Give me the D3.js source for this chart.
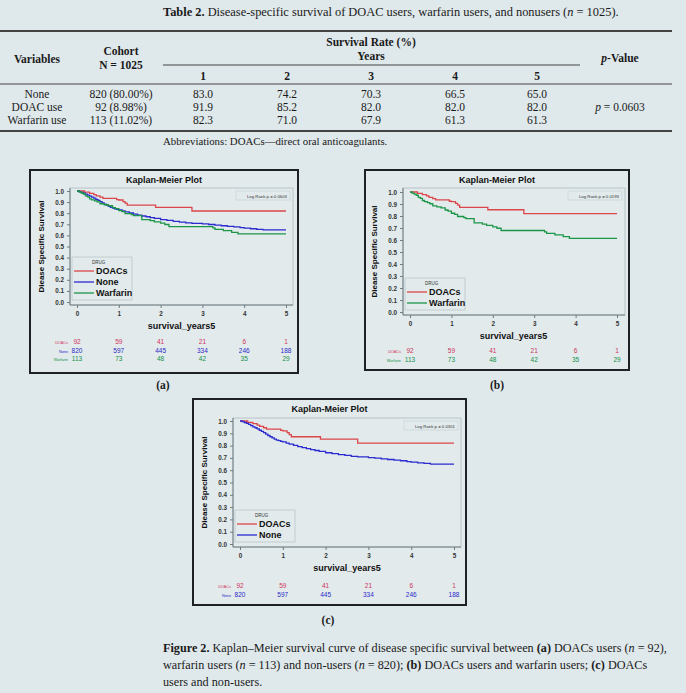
<!DOCTYPE html>
<html>
<head>
<meta charset="utf-8">
<script src="https://cdn.jsdelivr.net/npm/d3@7"></script>
<style>
  body { margin:0; background:#dfe8ea; }
  svg { display:block; }
  .serif { font-family:"Liberation Serif","DejaVu Serif",serif; fill:#1a1a1a; }
  .sas { font-family:"Liberation Sans",Arial,sans-serif; }
  .ax text { font-family:"Liberation Sans",Arial,sans-serif; font-weight:bold; fill:#333; }
  .ax path, .ax line { stroke:#6f7c80; }
</style>
</head>
<body>
<div id="chart"></div>
<script>
// ---- table data ----
var tableRows = ["None", "DOAC use", "Warfarin use"];
var cohortCol = ["820 (80.00%)", "92 (8.98%)", "113 (11.02%)"];
var yearCols = ["1", "2", "3", "4", "5"];
var rateRows = [
  ["83.0", "74.2", "70.3", "66.5", "65.0"],
  ["91.9", "85.2", "82.0", "82.0", "82.0"],
  ["82.3", "71.0", "67.9", "61.3", "61.3"]
];
var pValue = "p = 0.0603";

// ---- KM curves (time in years, survival) ----
var doacCurve = [[0,1],[0.18,0.989],[0.3,0.978],[0.4,0.967],[0.46,0.956],[0.55,0.945],[0.62,0.934],[0.95,0.923],[1.0,0.919],[1.1,0.905],[1.15,0.89],[1.2,0.872],[1.88,0.852],[2.75,0.82],[5,0.82]];
var noneCurve = [[0,1],[0.05,0.995],[0.1,0.988],[0.15,0.98],[0.2,0.972],[0.25,0.962],[0.3,0.953],[0.35,0.945],[0.4,0.936],[0.45,0.925],[0.5,0.915],[0.55,0.905],[0.6,0.893],[0.65,0.882],[0.7,0.872],[0.75,0.862],[0.8,0.853],[0.85,0.845],[0.9,0.84],[0.95,0.835],[1.0,0.83],[1.08,0.82],[1.15,0.812],[1.25,0.802],[1.35,0.792],[1.45,0.783],[1.55,0.775],[1.65,0.768],[1.75,0.76],[1.85,0.753],[2.0,0.742],[2.15,0.735],[2.3,0.727],[2.45,0.72],[2.6,0.713],[2.75,0.708],[3.0,0.703],[3.15,0.698],[3.3,0.692],[3.45,0.687],[3.6,0.682],[3.75,0.677],[3.9,0.67],[4.0,0.665],[4.15,0.66],[4.3,0.655],[4.45,0.65],[5,0.65]];
var warfarinCurve = [[0,1],[0.05,0.991],[0.1,0.982],[0.15,0.973],[0.2,0.956],[0.25,0.947],[0.3,0.929],[0.35,0.92],[0.42,0.911],[0.48,0.902],[0.55,0.885],[0.65,0.876],[0.75,0.867],[0.85,0.85],[0.92,0.841],[1.0,0.823],[1.08,0.814],[1.15,0.796],[1.3,0.787],[1.35,0.778],[1.55,0.743],[1.75,0.733],[1.85,0.722],[2.0,0.71],[2.1,0.698],[2.2,0.679],[3.25,0.667],[3.3,0.655],[3.5,0.643],[3.7,0.628],[3.85,0.613],[5,0.613]];

// numbers at risk at years 0..5
var riskYears = [0, 1, 2, 3, 4, 5];
var doacRisk = [92, 59, 41, 21, 6, 1];
var noneRisk = [820, 597, 445, 334, 246, 188];
var warfarinRisk = [113, 73, 48, 42, 35, 29];

var yTicks = [0, 0.1, 0.2, 0.3, 0.4, 0.5, 0.6, 0.7, 0.8, 0.9, 1.0];
var logRank = ["0.0603", "0.0193", "0.0301"];

var groups = {
  DOACs:    {curve: doacCurve, risk: doacRisk, color: "#dc4549", riskColor: "#d0355a"},
  None:     {curve: noneCurve, risk: noneRisk, color: "#2b2bd0", riskColor: "#2b2bc8"},
  Warfarin: {curve: warfarinCurve, risk: warfarinRisk, color: "#1b9647", riskColor: "#14914a"}
};

var svg = d3.select("#chart").append("svg")
  .attr("width", 686).attr("height", 693);

// ================= table =================
var colX = [37, 121, 203, 287, 371, 455, 537, 620];
var fs = "11.5px";

svg.append("text").attr("class","serif").attr("x",163).attr("y",16)
  .style("font-size","12.4px")
  .html('<tspan font-weight="bold">Table 2.</tspan> Disease-specific survival of DOAC users, warfarin users, and nonusers (<tspan font-style="italic">n</tspan> = 1025).');

svg.append("line").attr("x1",0).attr("x2",672).attr("y1",31).attr("y2",31)
  .attr("stroke","#444").attr("stroke-width",2);
svg.append("line").attr("x1",163).attr("x2",580).attr("y1",65).attr("y2",65)
  .attr("stroke","#444").attr("stroke-width",1);
svg.append("line").attr("x1",0).attr("x2",672).attr("y1",84).attr("y2",84)
  .attr("stroke","#444").attr("stroke-width",1);
svg.append("line").attr("x1",0).attr("x2",672).attr("y1",131).attr("y2",131)
  .attr("stroke","#444").attr("stroke-width",2);

function hdr(x, y, t){
  return svg.append("text").attr("class","serif").attr("x",x).attr("y",y)
    .attr("text-anchor","middle").style("font-size",fs).style("font-weight","bold").text(t);
}
hdr(colX[0], 63, "Variables");
hdr(colX[1], 55, "Cohort");
hdr(colX[1], 69, "N = 1025");
hdr(371, 46, "Survival Rate (%)");
hdr(371, 60, "Years");
svg.append("text").attr("class","serif").attr("x",colX[7]).attr("y",62)
  .attr("text-anchor","middle").style("font-size",fs).style("font-weight","bold")
  .html('<tspan font-style="italic">p</tspan>-Value');
yearCols.forEach(function(y, i){ hdr(colX[i+2], 80, y); });

tableRows.forEach(function(r, i){
  var y = 98 + i*13;
  svg.append("text").attr("class","serif").attr("x",colX[0]).attr("y",y)
    .attr("text-anchor","middle").style("font-size",fs).text(r);
  svg.append("text").attr("class","serif").attr("x",colX[1]).attr("y",y)
    .attr("text-anchor","middle").style("font-size",fs).text(cohortCol[i]);
  rateRows[i].forEach(function(v, j){
    svg.append("text").attr("class","serif").attr("x",colX[j+2]).attr("y",y)
      .attr("text-anchor","middle").style("font-size",fs).text(v);
  });
});
svg.append("text").attr("class","serif").attr("x",colX[7]).attr("y",111)
  .attr("text-anchor","middle").style("font-size",fs)
  .html('<tspan font-style="italic">p</tspan>' + pValue.slice(1));

svg.append("text").attr("class","serif").attr("x",163).attr("y",145)
  .style("font-size","10.8px").text("Abbreviations: DOACs\u2014direct oral anticoagulants.");

// ================= KM panels =================
function drawKM(cfg){
  var g = svg.append("g");
  // outer frame
  g.append("rect").attr("x",cfg.fx).attr("y",cfg.fy).attr("width",cfg.fw).attr("height",cfg.fh)
    .attr("fill","#e2eaec").attr("stroke","#1e2224").attr("stroke-width",2);

  var x = d3.scaleLinear().domain([0,5]).range([cfg.x0, cfg.x5]);
  var y = d3.scaleLinear().domain([0,1]).range([cfg.y0, cfg.y1]);

  // plot box
  g.append("rect").attr("x",cfg.bl).attr("y",cfg.bt).attr("width",cfg.br-cfg.bl).attr("height",cfg.bb-cfg.bt)
    .attr("fill","none").attr("stroke","#aebcc0").attr("stroke-width",0.8);

  g.append("text").attr("class","sas").attr("x",(cfg.fx*2+cfg.fw)/2).attr("y",cfg.fy+13)
    .attr("text-anchor","middle").style("font-size","9px").style("font-weight","bold")
    .attr("fill","#111").text("Kaplan-Meier Plot");

  var yAxis = d3.axisLeft(y).tickValues(yTicks).tickFormat(d3.format(".1f")).tickSize(3).tickPadding(3);
  g.append("g").attr("class","ax").attr("transform","translate("+cfg.bl+",0)")
    .call(yAxis)
    .call(function(s){ s.select(".domain").attr("d","M0,"+cfg.bt+"V"+cfg.bb); s.selectAll("text").style("font-size","6.3px"); });

  var xAxis = d3.axisBottom(x).tickValues(riskYears).tickFormat(d3.format("d")).tickSize(3).tickPadding(4);
  g.append("g").attr("class","ax").attr("transform","translate(0,"+cfg.bb+")")
    .call(xAxis)
    .call(function(s){ s.select(".domain").attr("d","M"+cfg.bl+",0H"+cfg.br); s.selectAll("text").style("font-size","6.3px"); });

  g.append("text").attr("class","sas").attr("transform","translate("+(cfg.bl-26)+","+((cfg.bt+cfg.bb)/2)+") rotate(-90)")
    .attr("text-anchor","middle").style("font-size","8px").style("font-weight","bold").attr("fill","#111")
    .text("Diease Specific Survival");

  g.append("text").attr("class","sas").attr("x",(cfg.x0+cfg.x5)/2).attr("y",cfg.bb+24)
    .attr("text-anchor","middle").style("font-size","9px").style("font-weight","bold").attr("fill","#111")
    .text("survival_years5");

  // log rank box
  var lrW = 54;
  g.append("rect").attr("x",cfg.br-lrW-3).attr("y",cfg.bt+3).attr("width",lrW).attr("height",9)
    .attr("fill","none").attr("stroke","#c4d0d4").attr("stroke-width",0.6);
  g.append("text").attr("class","sas").attr("x",cfg.br-6).attr("y",cfg.bt+9.5)
    .attr("text-anchor","end").style("font-size","4.3px").attr("fill","#333")
    .text("Log Rank p = " + cfg.p);

  var line = d3.line().x(function(d){ return x(d[0]); }).y(function(d){ return y(d[1]); })
    .curve(d3.curveStepAfter);

  cfg.names.forEach(function(n){
    g.append("path").attr("d", line(groups[n].curve))
      .attr("fill","none").attr("stroke",groups[n].color).attr("stroke-width",1.3);
  });

  // legend
  var lh = 11, lw = 60;
  var lTop = cfg.bb - 5 - (10 + lh*cfg.names.length);
  g.append("rect").attr("x",cfg.bl+2).attr("y",lTop).attr("width",lw).attr("height",10+lh*cfg.names.length)
    .attr("fill","#e2eaec").attr("stroke","#aebcc0").attr("stroke-width",0.6);
  g.append("text").attr("class","sas").attr("x",cfg.bl+22).attr("y",lTop+7)
    .style("font-size","4.5px").attr("fill","#333").text("DRUG");
  cfg.names.forEach(function(n, i){
    var ly = lTop + 14 + i*lh;
    g.append("line").attr("x1",cfg.bl+4).attr("x2",cfg.bl+24).attr("y1",ly).attr("y2",ly)
      .attr("stroke",groups[n].color).attr("stroke-width",1.3);
    g.append("text").attr("class","sas").attr("x",cfg.bl+26).attr("y",ly+3.2)
      .style("font-size","9px").style("font-weight","bold").attr("fill","#111").text(n);
  });

  // numbers at risk
  cfg.names.forEach(function(n, i){
    var ry = cfg.riskY + i*cfg.riskStep;
    g.append("text").attr("class","sas").attr("x",cfg.x0-9).attr("y",ry)
      .attr("text-anchor","end").style("font-size","3.8px").attr("fill",groups[n].riskColor).text(n);
    g.selectAll(null).data(groups[n].risk).enter().append("text")
      .attr("class","sas")
      .attr("x",function(d,j){ return x(riskYears[j]); })
      .attr("y",ry)
      .attr("text-anchor","middle").style("font-size","6.5px")
      .attr("fill",groups[n].riskColor).text(function(d){ return d; });
  });

  svg.append("text").attr("class","serif").attr("x",cfg.lx).attr("y",cfg.ly)
    .attr("text-anchor","middle").style("font-size","11.5px").style("font-weight","bold").text(cfg.label);
}

drawKM({fx:30, fy:170, fw:268, fh:203, bl:70, br:293, bt:188, bb:305,
  x0:77, x5:286, y0:302, y1:191, names:["DOACs","None","Warfarin"], p:logRank[0],
  riskY:344, riskStep:8.5, label:"(a)", lx:163, ly:389});

drawKM({fx:365, fy:170, fw:264, fh:200, bl:403, br:625, bt:188, bb:315,
  x0:410, x5:617, y0:312, y1:192, names:["DOACs","Warfarin"], p:logRank[1],
  riskY:353, riskStep:9, label:"(b)", lx:497, ly:389});

drawKM({fx:193, fy:399, fw:273, fh:206, bl:233, br:461, bt:418, bb:547,
  x0:240, x5:454, y0:544, y1:421, names:["DOACs","None"], p:logRank[2],
  riskY:588, riskStep:9, label:"(c)", lx:328, ly:624});

// ================= caption =================
var cap = svg.append("text").attr("class","serif").style("font-size","12.2px");
cap.append("tspan").attr("x",163).attr("y",652)
  .html('<tspan font-weight="bold">Figure 2.</tspan> Kaplan\u2013Meier survival curve of disease specific survival between <tspan font-weight="bold">(a)</tspan> DOACs users (<tspan font-style="italic">n</tspan> = 92),');
cap.append("tspan").attr("x",163).attr("y",669)
  .html('warfarin users (<tspan font-style="italic">n</tspan> = 113) and non-users (<tspan font-style="italic">n</tspan> = 820); <tspan font-weight="bold">(b)</tspan> DOACs users and warfarin users; <tspan font-weight="bold">(c)</tspan> DOACs');
cap.append("tspan").attr("x",163).attr("y",686).text("users and non-users.");
</script>
</body>
</html>
